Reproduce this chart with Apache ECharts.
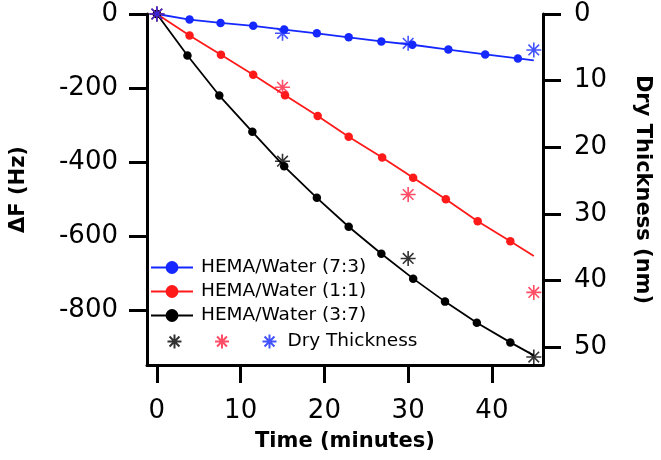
<!DOCTYPE html>
<html><head><meta charset="utf-8">
<script src="https://cdn.jsdelivr.net/npm/echarts@6/dist/echarts.min.js"></script>
<style>html,body{margin:0;padding:0;background:#fff}#c{width:661px;height:460px}</style>
</head><body><div id="c"></div>
<script>
// Frequency shift (Hz) vs time (minutes)
const blueTime  = [0, 3.9, 7.6, 11.5, 15.2, 19.1, 22.9, 26.8, 30.5, 34.8, 39.2, 43.1];
const blueDF    = [0, -15, -24, -32, -42, -52, -63, -74, -83, -96, -109, -120];
const blueFitEnd = [45, -125];
const redTime   = [0, 3.9, 7.65, 11.5, 15.3, 19.2, 22.9, 26.9, 30.6, 34.5, 38.3, 42.2];
const redDF     = [0, -58, -110, -164, -219, -275, -331, -387, -442, -500, -559, -613];
const redFitEnd = [45, -653];
const blackTime = [0, 3.65, 7.45, 11.4, 15.2, 19.1, 22.9, 26.8, 30.6, 34.4, 38.2, 42.2];
const blackDF   = [0, -112, -220, -318, -411, -496, -574, -647, -714, -776, -833, -886];
const blackFitEnd = [45, -921];
// Dry thickness (nm)
const thickTime  = [0, 15, 30, 45];
const blueThick  = [0, 2.9, 4.4, 5.4];
const redThick   = [0, 11.0, 27.1, 41.8];
const blackThick = [0, 22.1, 36.7, 51.5];
// ticks
const xTicks = [0, 10, 20, 30, 40];
const yLeftTicks = [0, -200, -400, -600, -800];
const yRightTicks = [0, 10, 20, 30, 40, 50];

const FONT = 'DejaVu Sans';
const STAR = 'path://M0,-10L0,10M-10,0L10,0M-7.07,-7.07L7.07,7.07M-7.07,7.07L7.07,-7.07';
const colBlue = '#1428ff', colRed = '#ff1a1a', colBlack = '#000000', colRedStar = '#ff2040';

function lineData(t, v, end) {
  const d = t.map((x, i) => [x, v[i]]);
  d.push({ value: end, symbol: 'none' });
  return d;
}
function starData(t, v) { return t.map((x, i) => [x, v[i]]); }

function lineSeries(name, t, v, end, color) {
  return {
    name, type: 'line', xAxisIndex: 0, yAxisIndex: 0, clip: false,
    data: lineData(t, v, end), symbol: 'circle', symbolSize: 8.5,
    lineStyle: { color, width: 1.8 }, itemStyle: { color }, z: 3
  };
}
function starSeries(name, v, color) {
  return {
    name, type: 'scatter', xAxisIndex: 0, yAxisIndex: 1, clip: false,
    data: starData(thickTime, v), symbol: STAR, symbolSize: 15,
    itemStyle: { color: 'none', borderColor: color, borderWidth: 1.6 }, z: 5
  };
}

const axisLine = { show: true, onZero: false, lineStyle: { color: '#000', width: 3 } };
const axisTickL = { show: true, length: 18, lineStyle: { color: '#000', width: 3 } };
const labelStyle = { color: '#000', fontFamily: FONT, fontSize: 26 };
const nameStyle = { color: '#000', fontFamily: FONT, fontSize: 21, fontWeight: 'bold' };

const chart = echarts.init(document.getElementById('c'), null, { renderer: 'canvas' });
chart.setOption({
  animation: false,
  backgroundColor: '#fff',
  grid: { left: 145, right: 114, top: 14, bottom: 95, containLabel: false },
  xAxis: [{
    type: 'value', min: -1.18, max: 46.1,
    name: 'Time (minutes)', nameLocation: 'middle', nameGap: 66, nameTextStyle: nameStyle,
    axisLine, axisTick: Object.assign({}, axisTickL, { customValues: xTicks }),
    axisLabel: Object.assign({}, labelStyle, { margin: 33, customValues: xTicks }),
    splitLine: { show: false }
  }],
  yAxis: [{
    type: 'value', min: -947, max: 0, position: 'left',
    name: 'ΔF (Hz)', nameLocation: 'middle', nameRotate: 90, nameGap: 118, nameTextStyle: nameStyle,
    axisLine, axisTick: Object.assign({}, axisTickL, { customValues: yLeftTicks }),
    axisLabel: Object.assign({}, labelStyle, { margin: 29, customValues: yLeftTicks }),
    splitLine: { show: false }
  }, {
    type: 'value', min: 0, max: 52.7, inverse: true, position: 'right',
    name: 'Dry Thickness (nm)', nameLocation: 'middle', nameRotate: -90, nameGap: 89, nameTextStyle: nameStyle,
    axisLine, axisTick: Object.assign({}, axisTickL, { customValues: yRightTicks }),
    axisLabel: Object.assign({}, labelStyle, { margin: 31, customValues: yRightTicks }),
    splitLine: { show: false }
  }],
  legend: [{
    orient: 'vertical', left: 145, top: 252, itemWidth: 42, itemHeight: 16, itemGap: 3,
    data: ['HEMA/Water (7:3)', 'HEMA/Water (1:1)', 'HEMA/Water (3:7)'],
    textStyle: { color: '#000', fontFamily: FONT, fontSize: 18.5, lineHeight: 21, padding: [0, 0, 0, 3] }
  }, {
    orient: 'horizontal', left: 160, top: 326, itemWidth: 14, itemHeight: 14, itemGap: 26,
    data: ['\u200b', '\u200b\u200b', 'Dry Thickness'],
    formatter: n => n === 'Dry Thickness' ? ' ' + n : n,
    textStyle: { color: '#000', fontFamily: FONT, fontSize: 18.5, lineHeight: 21 }
  }],
  series: [
    lineSeries('HEMA/Water (7:3)', blueTime, blueDF, blueFitEnd, colBlue),
    lineSeries('HEMA/Water (1:1)', redTime, redDF, redFitEnd, colRed),
    lineSeries('HEMA/Water (3:7)', blackTime, blackDF, blackFitEnd, colBlack),
    starSeries('\u200b', blackThick, colBlack),
    starSeries('\u200b\u200b', redThick, colRedStar),
    starSeries('Dry Thickness', blueThick, colBlue)
  ]
});
</script></body></html>
